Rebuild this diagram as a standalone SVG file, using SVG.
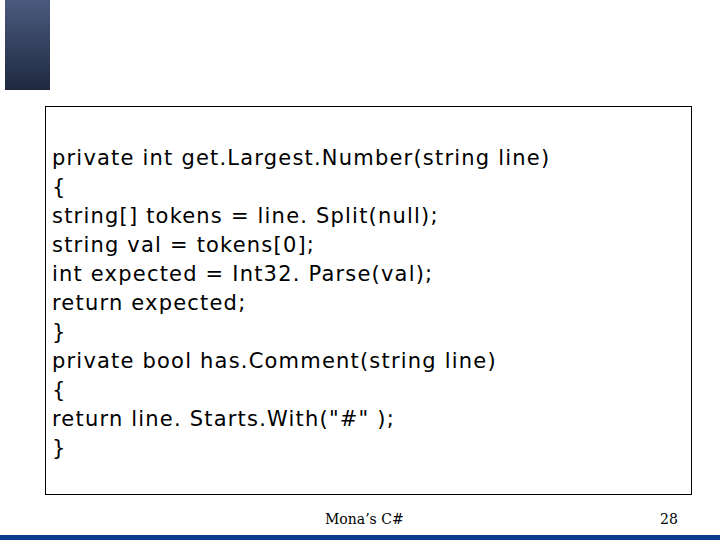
<svg xmlns="http://www.w3.org/2000/svg" width="720" height="540" viewBox="0 0 720 540">
<defs><linearGradient id="g" x1="0" y1="0" x2="0" y2="1"><stop offset="0" stop-color="#4a5a7e"/><stop offset="1" stop-color="#1f2940"/></linearGradient></defs>
<style>.c{font-family:"DejaVu Sans",sans-serif;font-size:21px;letter-spacing:1.2px;fill:#000}.f{font-family:"DejaVu Serif",serif;font-size:14px;fill:#000}</style>
<rect width="720" height="540" fill="#fff"/>
<rect x="5" y="0" width="45" height="90" fill="url(#g)"/>
<g id="codebox">
<rect x="45.5" y="106.5" width="646" height="388" fill="#fff" stroke="#000" stroke-width="1"/>
<text class="c" x="52" y="165">private int get.Largest.Number(string line)</text>
<text class="c" x="52" y="194">{</text>
<text class="c" x="52" y="223">string[] tokens = line. Split(null);</text>
<text class="c" x="52" y="252">string val = tokens[0];</text>
<text class="c" x="52" y="281">int expected = Int32. Parse(val);</text>
<text class="c" x="52" y="310">return expected;</text>
<text class="c" x="52" y="339">}</text>
<text class="c" x="52" y="368">private bool has.Comment(string line)</text>
<text class="c" x="52" y="397">{</text>
<text class="c" x="52" y="426">return line. Starts.With("#" );</text>
<text class="c" x="52" y="455">}</text>
</g>
<text class="f" x="325" y="524">Mona’s C#</text>
<text class="f" x="660" y="524">28</text>
<rect x="0" y="535" width="720" height="5" fill="#0a3a8c"/>
</svg>
